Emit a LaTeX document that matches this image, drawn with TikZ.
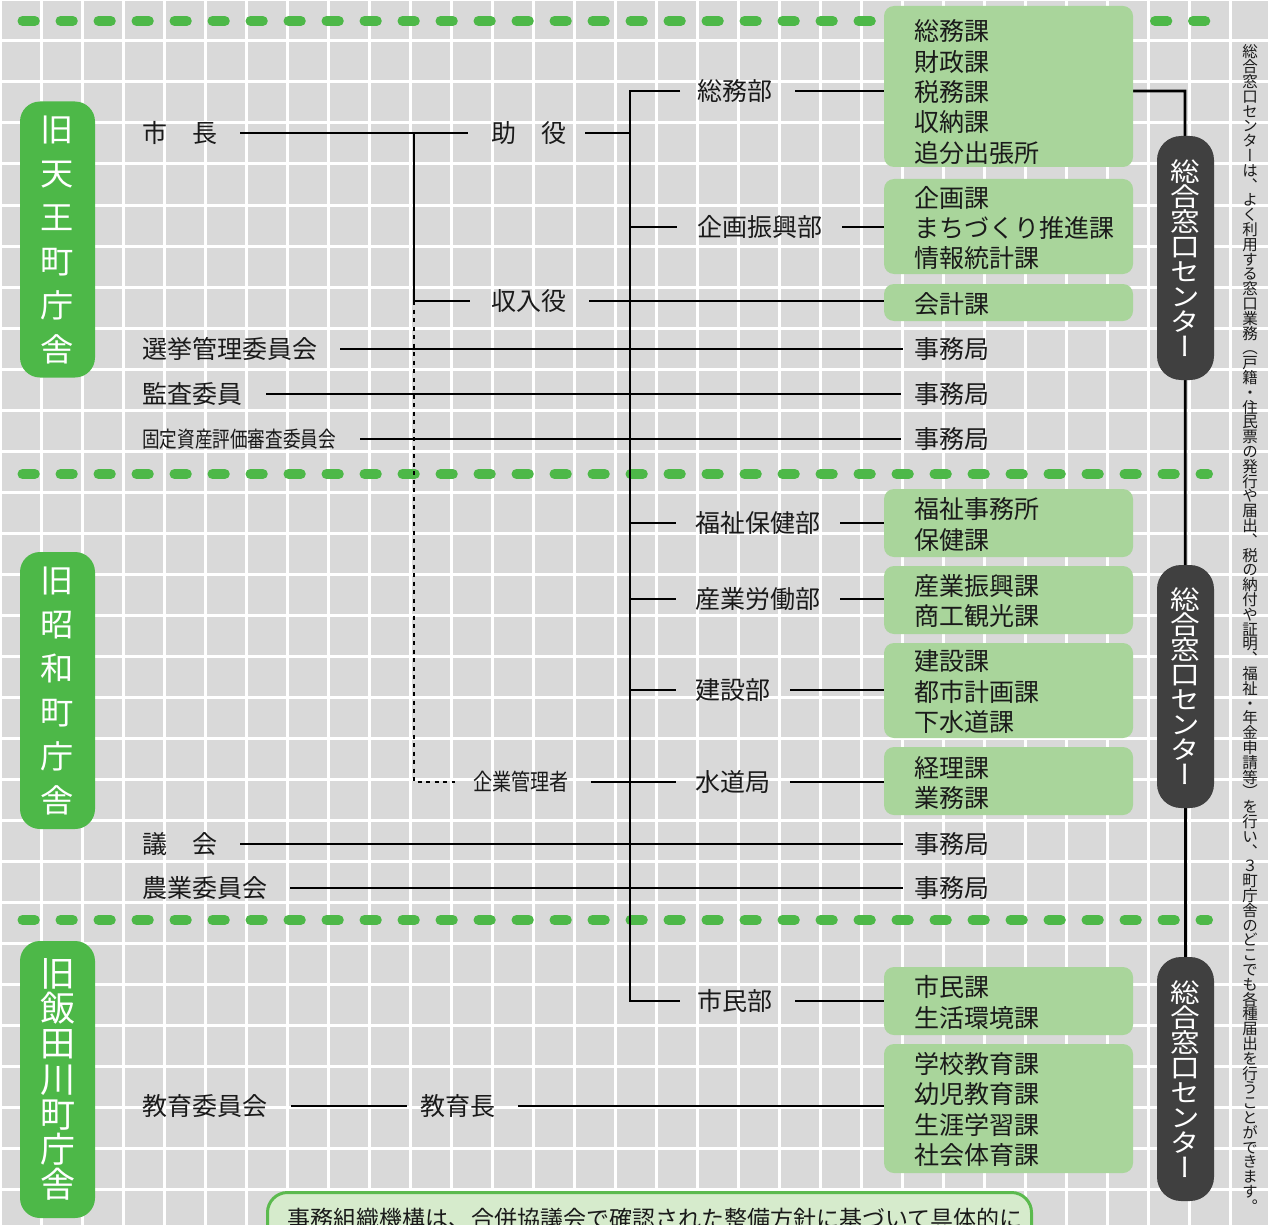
\documentclass[tikz,border=0pt]{standalone}
\usepackage{fontspec}
\setmainfont{Noto Sans CJK JP}
\newfontfamily\vjp[RawFeature=+vert]{Noto Sans CJK JP}
\usepackage{graphicx}
\makeatletter
\newcommand\tatestack[2]{\vbox{\baselineskip=#1\relax\lineskiplimit=-\maxdimen\lineskip=0pt\relax\@tfor\tatech:=#2\do{\hbox to #1{\hss\tatech\hss}}}}
\makeatother
\definecolor{bggray}{HTML}{D9D9D9}
\definecolor{gmain}{HTML}{4DB848}
\definecolor{glight}{HTML}{A9D59B}
\definecolor{dkgray}{HTML}{404040}
\definecolor{notefill}{HTML}{D6EBCC}
\definecolor{noteline}{HTML}{5BBA4E}
\definecolor{inkc}{HTML}{1A1A1A}
\pgfdeclarelayer{bgl}
\pgfdeclarelayer{lines}
\pgfsetlayers{bgl,lines,main}
\begin{document}
\begin{tikzpicture}[x=1pt,y=-1pt,
  gridline/.style={draw=white,line width=3pt},
  gdash/.style={draw=gmain,line width=10pt,line cap=round,dash pattern=on 12.3pt off 25.7pt},
  lbl/.style={inner sep=0pt,anchor=west,text=inkc,font=\fontsize{25}{30}\selectfont,text height=22pt,text depth=3pt},
  btext/.style={inner sep=0pt,anchor=west,text=inkc,align=left,font=\fontsize{25}{30.4}\selectfont},
  gbox/.style={rectangle,rounded corners=10pt,fill=glight,minimum width=249pt,inner sep=0pt},
  sidebox/.style={rectangle,rounded corners=20pt,fill=gmain,minimum width=75pt,minimum height=276pt,inner sep=0pt,text=white},
  dkbox/.style={rectangle,rounded corners=24pt,fill=dkgray,minimum width=57pt,minimum height=244pt,inner sep=0pt,text=white},
  conn/.style={draw=black,line width=2.8pt},
  dotline/.style={draw=black,line width=2.8pt,dash pattern=on 4pt off 4.5pt}]
\useasboundingbox (0,0) rectangle (1268,1225);
\begin{pgfonlayer}{bgl}
  \fill[bggray] (0,0) rectangle (1268,1225);
  \foreach \i in {0,...,31} \draw[gridline] (41*\i,0) -- (41*\i,1225);
  \foreach \j in {0,...,30} \draw[gridline] (0,41*\j) -- (1268,41*\j);
  \draw[gdash] (22.5,21) -- (880,21);
  \draw[gdash] (1155,21) -- (1215,21);
  \draw[gdash] (22.5,474) -- (1208,474);
  \draw[gdash] (22.5,920) -- (1208,920);
\end{pgfonlayer}

% side boxes
\node[sidebox] (side1) at (57.5,239.5) {\fontsize{32}{44}\selectfont\scalebox{1.04}[1]{\tatestack{44pt}{旧天王町庁舎}}};
\node[sidebox,minimum height=277pt] (side2) at (57.5,690.5) {\fontsize{32}{44}\selectfont\scalebox{1.04}[1]{\tatestack{44pt}{旧昭和町庁舎}}};
\node[sidebox,minimum height=277pt] (side3) at (57.5,1079.5) {\fontsize{35}{35}\selectfont\tatestack{35.2pt}{旧飯田川町庁舎}};

% left labels
\node[lbl] (shicho) at (142,133) {市　長};
\node[lbl] (joyaku) at (491,133) {助　役};
\node[lbl] (shunyu) at (491,301) {収入役};
\node[lbl] (senkyo) at (142,349) {選挙管理委員会};
\node[lbl] (kansa) at (142,394) {監査委員};
\node[lbl,font=\fontsize{22}{26}\selectfont,text height=19.4pt,text depth=2.6pt] (kotei) at (142,439) {\scalebox{0.8}[1]{固定資産評価審査委員会}};
\node[lbl,font=\fontsize{23}{27}\selectfont,text height=20.2pt,text depth=2.8pt] (kigyo) at (473,782) {\scalebox{0.83}[1]{企業管理者}};
\node[lbl] (gikai) at (142,844) {議　会};
\node[lbl] (nogyo) at (142,888) {農業委員会};
\node[lbl] (kyoiku) at (142,1106) {教育委員会};
\node[lbl] (kyoikucho) at (420,1106) {教育長};

% departments
\node[lbl] (somu) at (697,91) {総務部};
\node[lbl] (kikaku) at (697,227) {企画振興部};
\node[lbl] (fukushi) at (695,523) {福祉保健部};
\node[lbl] (sangyo) at (695,599) {産業労働部};
\node[lbl] (kensetsu) at (695,690) {建設部};
\node[lbl] (suido) at (695,782) {水道局};
\node[lbl] (shimin) at (697,1001) {市民部};

% section boxes
\node[gbox,minimum height=161pt] (bSomu) at (1008.5,86.5) {};
\node[gbox,minimum height=95pt] (bKikaku) at (1008.5,226.5) {};
\node[gbox,minimum height=37pt] (bKaikei) at (1008.5,302.5) {};
\node[gbox,minimum height=68pt] (bFukushi) at (1008.5,523) {};
\node[gbox,minimum height=68pt] (bSangyo) at (1008.5,600) {};
\node[gbox,minimum height=95pt] (bKensetsu) at (1008.5,690.5) {};
\node[gbox,minimum height=68pt] (bSuido) at (1008.5,781) {};
\node[gbox,minimum height=68pt] (bShimin) at (1008.5,1001) {};
\node[gbox,minimum height=129pt] (bGakko) at (1008.5,1108.5) {};

\node[btext] (tSomu) at (914,92) {総務課\\財政課\\税務課\\収納課\\追分出張所};
\node[btext] (tKikaku) at (914,228) {企画課\\まちづくり推進課\\情報統計課};
\node[btext] (tKaikei) at (914,304) {会計課};
\node[btext] (tFukushi) at (914,524.5) {福祉事務所\\保健課};
\node[btext] (tSangyo) at (914,601) {産業振興課\\商工観光課};
\node[btext] (tKensetsu) at (914,692) {建設課\\都市計画課\\下水道課};
\node[btext] (tSuido) at (914,783) {経理課\\業務課};
\node[btext] (tShimin) at (914,1002.5) {市民課\\生活環境課};
\node[btext] (tGakko) at (914,1109.5) {学校教育課\\幼児教育課\\生涯学習課\\社会体育課};

% jimukyoku
\node[lbl] (jm1) at (914,349) {事務局};
\node[lbl] (jm2) at (914,394) {事務局};
\node[lbl] (jm3) at (914,439) {事務局};
\node[lbl] (jm4) at (914,844) {事務局};
\node[lbl] (jm5) at (914,888) {事務局};

% dark boxes
\node[dkbox] (dk1) at (1185.5,258) {\vjp\fontsize{26}{25}\selectfont\scalebox{1.14}[1]{\tatestack{25pt}{総合窓口センター}}};
\node[dkbox,minimum height=243pt] (dk2) at (1185.5,686.5) {\vjp\fontsize{26}{25}\selectfont\scalebox{1.14}[1]{\tatestack{25pt}{総合窓口センター}}};
\node[dkbox] (dk3) at (1185.5,1079) {\vjp\fontsize{26}{25}\selectfont\scalebox{1.14}[1]{\tatestack{25pt}{総合窓口センター}}};

% right note
\node[inner sep=0pt,text=inkc] (note) at (1250,628.5) {\vjp\fontsize{15.5}{15}\selectfont\tatestack{14.8pt}{総合窓口センターは、よく利用する窓口業務（戸籍・住民票の発行や届出、税の納付や証明、福祉・年金申請等）を行い、３町庁舎のどこでも各種届出を行うことができます。}};

% bottom note box
\node[rectangle,draw=noteline,line width=3pt,fill=notefill,rounded corners=20pt,minimum width=764pt,minimum height=80pt,anchor=north west,inner sep=0pt] (bottombox) at (266,1191) {};
\node[inner sep=0pt,anchor=west,text=inkc,font=\fontsize{23}{27}\selectfont] (bottomtxt) at (287,1219) {事務組織機構は、合併協議会で確認された整備方針に基づいて具体的に};

\coordinate (jx) at (414,133);
\coordinate (tr) at (630,91);
\coordinate (rx) at (1185,91);

\begin{pgfonlayer}{lines}
  \draw[conn,shorten <=23pt,shorten >=23pt] (shicho.east) -- (joyaku.west);
  \draw[conn,shorten >=21pt] (jx) |- (shunyu.west);
  \draw[dotline,shorten >=18pt] (jx |- shunyu.west) |- (kigyo.west);
  \draw[conn,shorten <=17pt,shorten >=17pt] (somu.west) -- (tr |- somu.west) -- (tr |- shimin.west) -- (shimin.west);
  \draw[conn,shorten <=19pt] (joyaku.east) -- (tr |- joyaku.east);
  \draw[conn,shorten >=20pt] (tr |- kikaku.west) -- (kikaku.west);
  \draw[conn,shorten >=19pt] (tr |- fukushi.west) -- (fukushi.west);
  \draw[conn,shorten >=19pt] (tr |- sangyo.west) -- (sangyo.west);
  \draw[conn,shorten >=19pt] (tr |- kensetsu.west) -- (kensetsu.west);
  \draw[conn,shorten <=22pt,shorten >=19pt] (kigyo.east) -- (suido.west);
  \draw[conn,shorten <=23pt] (somu.east) -- (bSomu.west |- somu.east);
  \draw[conn,shorten <=20pt] (kikaku.east) -- (bKikaku.west |- kikaku.east);
  \draw[conn,shorten <=23pt] (shunyu.east) -- (bKaikei.west |- shunyu.east);
  \draw[conn,shorten <=20pt] (fukushi.east) -- (bFukushi.west |- fukushi.east);
  \draw[conn,shorten <=20pt] (sangyo.east) -- (bSangyo.west |- sangyo.east);
  \draw[conn,shorten <=20pt] (kensetsu.east) -- (bKensetsu.west |- kensetsu.east);
  \draw[conn,shorten <=20pt] (suido.east) -- (bSuido.west |- suido.east);
  \draw[conn,shorten <=23pt] (shimin.east) -- (bShimin.west |- shimin.east);
  \draw[conn,shorten <=23pt,shorten >=11pt] (senkyo.east) -- (jm1.west);
  \draw[conn,shorten <=24pt,shorten >=13pt] (kansa.east) -- (jm2.west);
  \draw[conn,shorten <=24pt,shorten >=13pt] (kotei.east) -- (jm3.west);
  \draw[conn,shorten <=23pt,shorten >=11pt] (gikai.east) -- (jm4.west);
  \draw[conn,shorten <=23pt,shorten >=11pt] (nogyo.east) -- (jm5.west);
  \draw[conn,shorten <=24pt,shorten >=13pt] (kyoiku.east) -- (kyoikucho.west);
  \draw[conn,shorten <=23pt] (kyoikucho.east) -- (bGakko.west |- kyoikucho.east);
  \draw[conn] (bSomu.east |- somu.east) -- (rx) -- (dk3.north);
\end{pgfonlayer}
\end{tikzpicture}
\end{document}
